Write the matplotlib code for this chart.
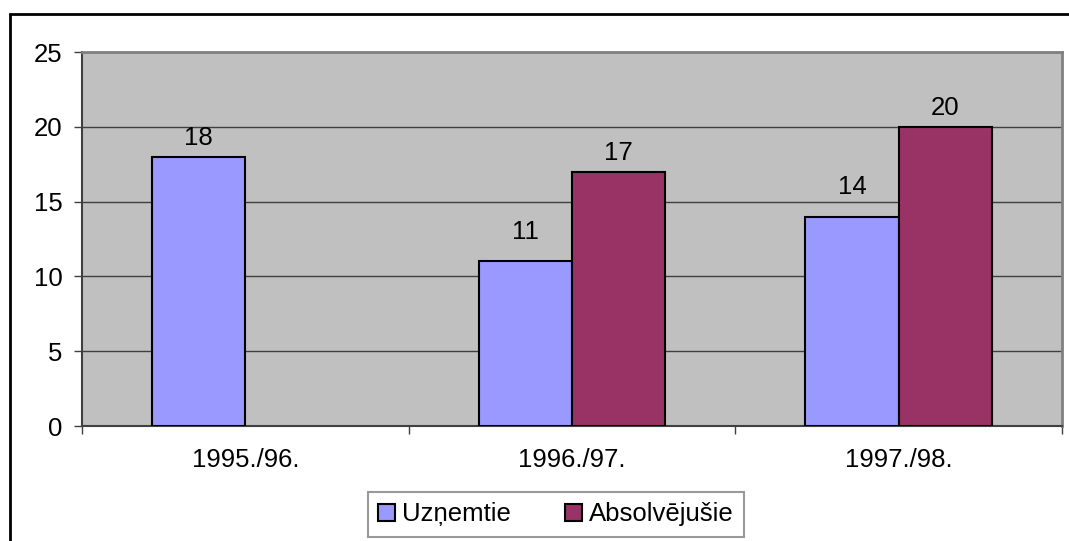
import numpy as np
import matplotlib.pyplot as plt
from matplotlib.patches import Rectangle

plt.rcParams['font.family'] = ['Liberation Sans', 'DejaVu Sans']

# data
years = ['1995./96.', '1996./97.', '1997./98.']
uznemtie = [18, 11, 14]
absolvejusie = [np.nan, 17, 20]
series_names = ['Uzņemtie', 'Absolvējušie']

W, H = 1069, 541
FS = 18.5
fig = plt.figure(figsize=(W / 100, H / 100), dpi=100)

# outer chart border (cut off on the right and bottom in the original)
fig.patches.append(Rectangle((10 / W, -0.1), 1.2, (H - 14) / H + 0.1,
                             transform=fig.transFigure, fill=False,
                             edgecolor='black', linewidth=2))

ax = fig.add_axes([82 / W, (H - 426) / H, 980 / W, 374 / H])
ax.set_facecolor('#C0C0C0')

x = np.arange(len(years))
bw = 1 / 3.5  # excel gap width 150%
b1 = ax.bar(x - bw / 2, uznemtie, bw, color='#9999FF', edgecolor='black',
            linewidth=1.5, zorder=3, label=series_names[0])
b2 = ax.bar(x + bw / 2, absolvejusie, bw, color='#993366', edgecolor='black',
            linewidth=1.5, zorder=3, label=series_names[1])

# value labels
pads1 = [5, 12.5, 12.5]
for xi, v, p in zip(x, uznemtie, pads1):
    ax.annotate(str(v), (xi - bw / 2, v), xytext=(0, p), textcoords='offset points',
                ha='center', va='bottom', fontsize=FS)
for xi, v in zip(x, absolvejusie):
    if not np.isnan(v):
        ax.annotate(str(int(v)), (xi + bw / 2, v), xytext=(0, 5),
                    textcoords='offset points', ha='center', va='bottom', fontsize=FS)

ax.set_xlim(-0.5, len(years) - 0.5)
ax.set_ylim(0, 25)
ax.set_yticks(np.arange(0, 26, 5))
ax.yaxis.grid(True, color='#404040', linewidth=1, zorder=1)
ax.set_axisbelow(True)

ax.set_xticks(x)
ax.set_xticklabels(years)
ax.set_xticks(np.arange(-0.5, len(years)), minor=True)
ax.tick_params(axis='x', which='major', length=0, pad=16, labelsize=FS)
ax.tick_params(axis='x', which='minor', length=6, width=1, color='#404040', direction='out')
ax.tick_params(axis='y', length=6, width=1, color='#404040', pad=8, labelsize=FS)

for s in ['left', 'bottom']:
    ax.spines[s].set_color('#404040')
    ax.spines[s].set_linewidth(1.5)
for s in ['top', 'right']:
    ax.spines[s].set_color('#808080')
    ax.spines[s].set_linewidth(2)

leg = fig.legend(handles=[b1, b2], loc='center', ncol=2,
                 bbox_to_anchor=(556 / W, 1 - 514.5 / H),
                 fontsize=FS, frameon=True, fancybox=False, shadow=False,
                 handlelength=0.65, handleheight=0.65, handletextpad=0.3,
                 columnspacing=2.1, borderpad=0.4, borderaxespad=0)
leg.get_frame().set_edgecolor('#808080')
leg.get_frame().set_linewidth(1.5)

fig.savefig('out.png', dpi=100)
